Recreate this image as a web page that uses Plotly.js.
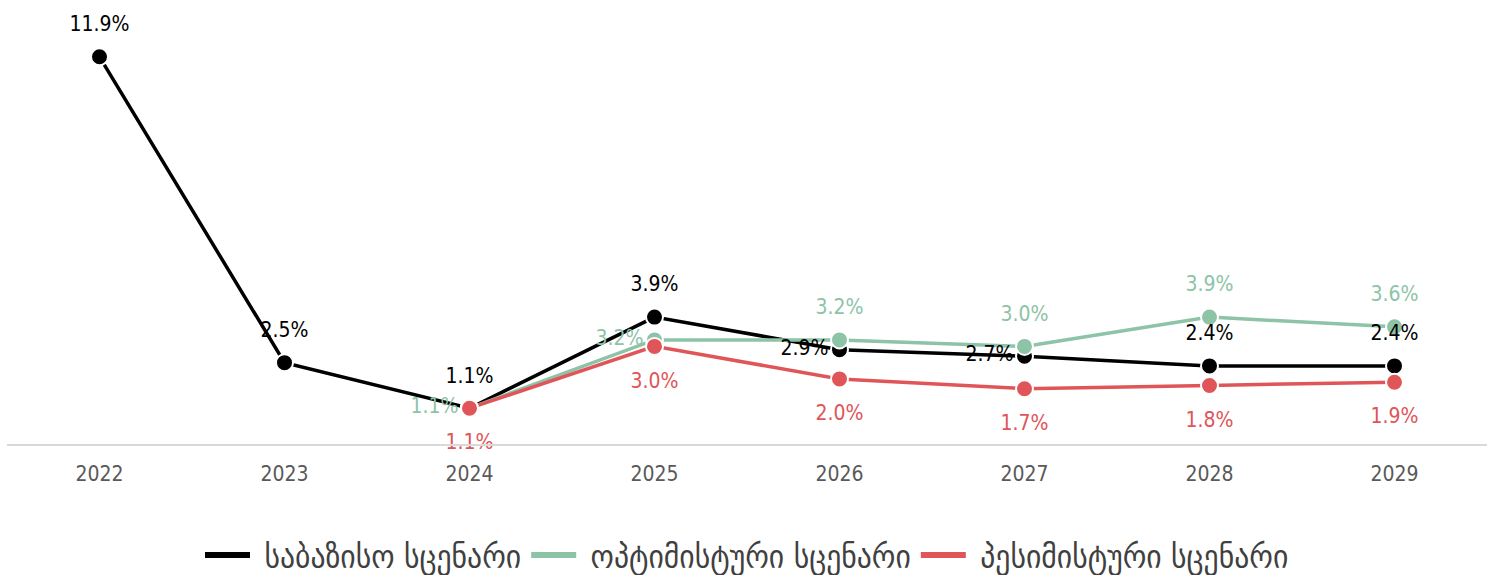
<!DOCTYPE html>
<html><head><meta charset="utf-8">
<script src="https://cdn.plot.ly/plotly-3.0.1.min.js"></script>
<style>body{margin:0;background:#fff}#c{width:1494px;height:575px}</style>
</head><body><div id="c"></div>
<script>
const years = ['2022','2023','2024','2025','2026','2027','2028','2029'];
const baseName = 'საბაზისო სცენარი';
const optName = 'ოპტიმისტური სცენარი';
const pesName = 'პესიმისტური სცენარი';
const baseVals = [11.9, 2.5, 1.1, 3.9, 2.9, 2.7, 2.4, 2.4];
const optVals = [null, null, 1.1, 3.2, 3.2, 3.0, 3.9, 3.6];
const pesVals = [null, null, 1.1, 3.0, 2.0, 1.7, 1.8, 1.9];
const basePos = ['top center','top center','top center','top center','middle left','middle left','top center','top center'];
const optPos = ['top center','top center','middle left','middle left','top center','top center','top center','top center'];
const pesPos = ['bottom center','bottom center','bottom center','bottom center','bottom center','bottom center','bottom center','bottom center'];

const FONT = '"DejaVu Sans Condensed", "DejaVu Sans", sans-serif';
const C_BASE = '#000000', C_OPT = '#8DC3A7', C_PES = '#E05558';
const offsetFor = {'top center': 31, 'middle left': 16, 'bottom center': 39};

function lineTrace(y, color, name){
  return {x: years, y: y, name: name, type: 'scatter', mode: 'lines+markers', showlegend: false,
    line: {color: color, width: 3.5}, connectgaps: false,
    marker: {color: color, size: 17, line: {color: '#ffffff', width: 2}}, hoverinfo: 'skip'};
}
function textTrace(y, color, pos){
  return {x: years, y: y, type: 'scatter', mode: 'markers+text', showlegend: false,
    text: y.map(v => v == null ? '' : v.toFixed(1) + '%'), textposition: pos,
    textfont: {family: FONT, size: 21, color: color}, cliponaxis: false,
    marker: {size: pos.map(p => offsetFor[p]), opacity: 0}, hoverinfo: 'skip'};
}
function legendTrace(color, name){
  return {x: [null], y: [null], type: 'scatter', mode: 'lines', name: '\u00A0' + name,
    line: {color: color, width: 6}, hoverinfo: 'skip'};
}
const data = [
  lineTrace(baseVals, C_BASE, baseName),
  lineTrace(optVals, C_OPT, optName),
  lineTrace(pesVals, C_PES, pesName),
  textTrace(baseVals, C_BASE, basePos),
  textTrace(optVals, C_OPT, optPos),
  textTrace(pesVals, C_PES, pesPos),
  legendTrace(C_BASE, baseName),
  legendTrace(C_OPT, optName),
  legendTrace(C_PES, pesName)
];
const layout = {
  width: 1494, height: 575,
  margin: {l: 7, r: 7, t: 21, b: 131},
  paper_bgcolor: '#ffffff', plot_bgcolor: '#ffffff',
  font: {family: FONT, color: '#000'},
  showlegend: true,
  legend: {orientation: 'h', x: 0.5, xanchor: 'center', xref: 'container', yref: 'container',
    y: 1 - 555/575, yanchor: 'middle',
    font: {family: FONT, size: 33, color: '#404040'}, itemwidth: 45, tracegroupgap: 0},
  xaxis: {type: 'category', range: [-0.5, 7.5], showgrid: false, zeroline: false,
    showline: true, linecolor: '#d9d9d9', linewidth: 2, ticks: '', ticklabelstandoff: 10,
    tickfont: {family: FONT, size: 21, color: '#595959'}, fixedrange: true},
  yaxis: {range: [0, 13], visible: false, showgrid: false, zeroline: false, fixedrange: true}
};
Plotly.newPlot('c', data, layout, {displayModeBar: false, staticPlot: true});
</script></body></html>
